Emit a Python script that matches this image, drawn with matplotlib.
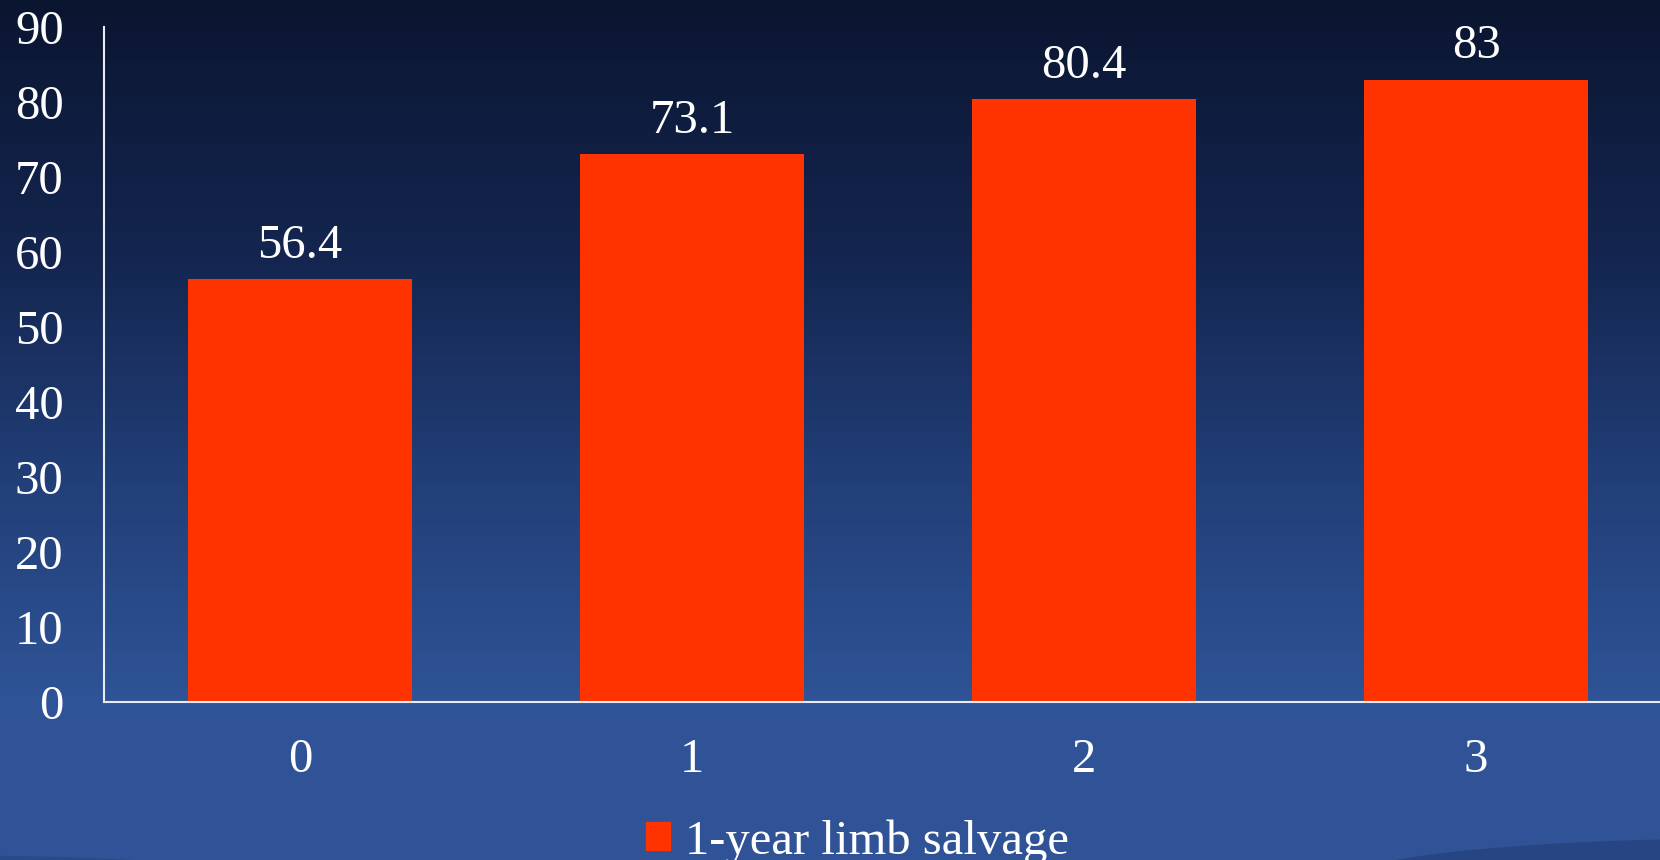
import numpy as np
import matplotlib.pyplot as plt
from matplotlib.colors import LinearSegmentedColormap
from matplotlib.patches import Patch, Ellipse

# limb salvage by group
groups = ['0', '1', '2', '3']
salvage = [56.4, 73.1, 80.4, 83]
yticks = [0, 10, 20, 30, 40, 50, 60, 70, 80, 90]

bar_color = '#ff3300'
txt = 'white'

plt.rcParams['font.family'] = ['Liberation Serif', 'DejaVu Serif']

fig = plt.figure(figsize=(16.6, 8.6), dpi=100)

# slide background: dark navy at top fading to blue at the bottom
bg = fig.add_axes([0, 0, 1, 1], zorder=-10)
cmap = LinearSegmentedColormap.from_list(
    'slide', [(0.0, '#0a1530'), (0.3, '#142650'), (0.55, '#213e77'),
              (0.82, '#2f5497'), (1.0, '#2f5396')])
grad = np.linspace(0, 1, 256).reshape(-1, 1)
bg.imshow(grad, aspect='auto', cmap=cmap, extent=[0, 1, 1, 0])
bg.add_patch(Ellipse((1.05, -0.03), 0.5, 0.11, transform=bg.transAxes,
                     color='#24427e', alpha=0.8, lw=0))
bg.add_patch(Ellipse((-0.02, -0.015), 0.3, 0.04, transform=bg.transAxes,
                     color='#26457f', alpha=0.6, lw=0))
bg.set_xlim(0, 1)
bg.set_ylim(1, 0)
bg.axis('off')

ax = fig.add_axes([104 / 1660, 158 / 860, 1568 / 1660, 675 / 860])
ax.patch.set_alpha(0)
x = np.arange(len(groups))
bars = ax.bar(x, salvage, width=0.57, color=bar_color, label='1-year limb salvage')

for b, v in zip(bars, salvage):
    ax.annotate(f'{v:g}', (b.get_x() + b.get_width() / 2, v),
                xytext=(0, 8), textcoords='offset points',
                ha='center', va='bottom', color=txt, fontsize=35)

ax.set_xlim(-0.5, 3.5)
ax.set_ylim(0, 90)
ax.set_xticks(x)
ax.set_xticklabels(groups)
ax.set_yticks(yticks)
ax.tick_params(axis='both', colors=txt, labelsize=35, length=0)
ax.tick_params(axis='x', pad=26)
ax.tick_params(axis='y', pad=29)
for lbl in ax.get_yticklabels():
    lbl.set_ha('right')
for s in ['top', 'right']:
    ax.spines[s].set_visible(False)
for s in ['left', 'bottom']:
    ax.spines[s].set_color('#e8ecf4')
    ax.spines[s].set_linewidth(1.5)

fig.legend(handles=[Patch(color=bar_color, label='1-year limb salvage')],
           loc='lower center', bbox_to_anchor=(857 / 1660, -0.055),
           frameon=False, fontsize=35, labelcolor=txt,
           handlelength=0.5, handleheight=0.5, handletextpad=0.3)

fig.savefig('out.png', dpi=100)
